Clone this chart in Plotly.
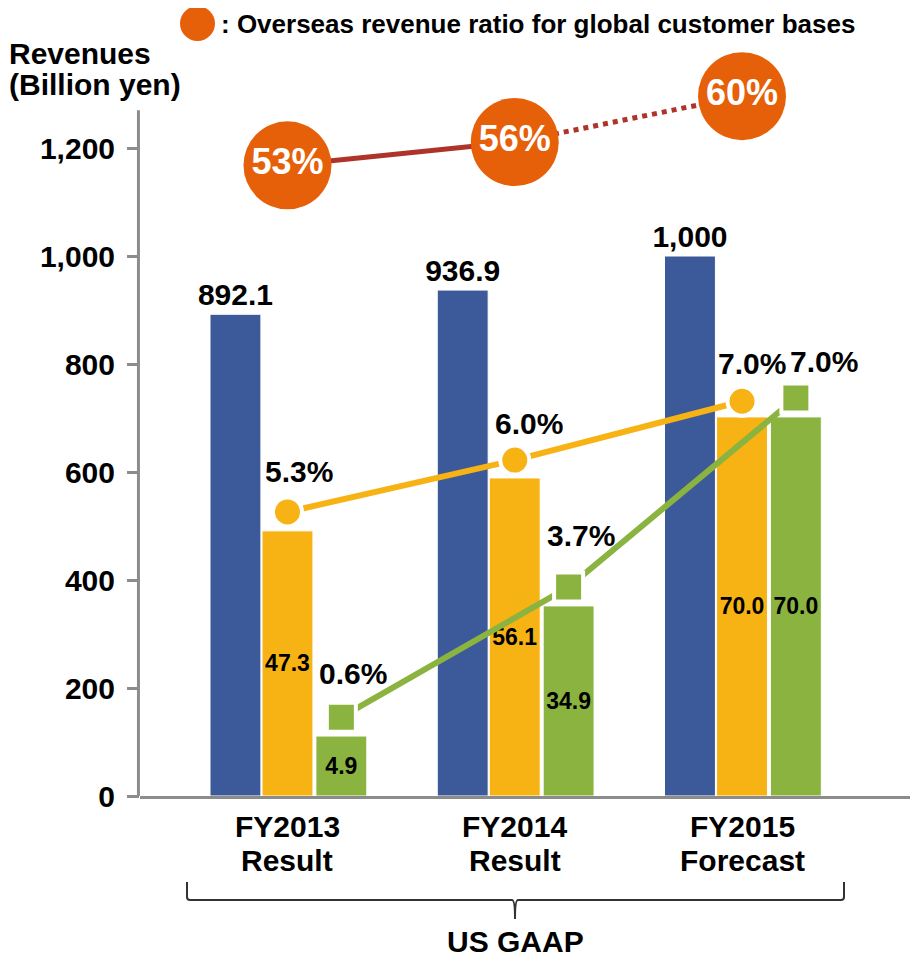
import plotly.graph_objects as go

# ---------------- data ----------------
categories_line1 = ["FY2013", "FY2014", "FY2015"]
categories_line2 = ["Result", "Result", "Forecast"]

revenues = [892.1, 936.9, 1000.0]
revenue_labels = ["892.1", "936.9", "1,000"]

op_income_bar = [491, 589, 702]          # drawn bar heights (axis units)
op_income_labels = ["47.3", "56.1", "70.0"]

net_income_bar = [111, 352, 702]         # drawn bar heights (axis units)
net_income_labels = ["4.9", "34.9", "70.0"]

op_margin_pos = [526, 622, 731]
op_margin_labels = ["5.3%", "6.0%", "7.0%"]

net_margin_pos = [146, 387, 737]
net_margin_labels = ["0.6%", "3.7%", "7.0%"]

overseas_pos = [1168, 1211, 1296]
overseas_labels = ["53%", "56%", "60%"]

y_ticks = [0, 200, 400, 600, 800, 1000, 1200]
y_axis_top = 1270

# ---------------- style ----------------
BLUE = "#3C5A99"
ORANGE = "#F7B214"
GREEN = "#8BB33F"
OVERSEAS = "#E6600A"
RED = "#AE3329"
AXIS = "#8C8C8C"
FONT = "Liberation Sans, Arial, sans-serif"

PAGE_OFF = 8  # default body margin of the html page
W, H = 910, 950
L, R, T, B = 132, 6, 32, 162
PW, PH = W - L - R, H - T - B
Y_MAX = 1400


def px_x(px):
    return (px - PAGE_OFF - L) / PW


def px_y(py):
    return (H - B - (py - PAGE_OFF)) / PH


xs = list(range(len(categories_line1)))
BW = 0.224

fig = go.Figure()

fig.add_trace(go.Bar(
    x=xs, y=revenues, width=BW, offset=-0.341,
    marker=dict(color=BLUE, line=dict(color="white", width=1)),
    text=[f"<b>{t}</b>" for t in revenue_labels], textposition="outside",
    constraintext="none",
    textfont=dict(family=FONT, size=30, color="black"), cliponaxis=False,
    showlegend=False,
))
fig.add_trace(go.Bar(
    x=xs, y=op_income_bar, width=BW, offset=-0.112,
    marker=dict(color=ORANGE, line=dict(color="white", width=1)),
    text=[f"<b>{t}</b>" for t in op_income_labels], textposition="inside",
    insidetextanchor="middle", textangle=0, constraintext="none",
    textfont=dict(family=FONT, size=23, color="black"),
    showlegend=False,
))
fig.add_trace(go.Bar(
    x=xs, y=net_income_bar, width=BW, offset=0.125,
    marker=dict(color=GREEN, line=dict(color="white", width=1)),
    text=[f"<b>{t}</b>" for t in net_income_labels], textposition="inside",
    insidetextanchor="middle", textangle=0, constraintext="none",
    textfont=dict(family=FONT, size=23, color="black"),
    showlegend=False,
))

# margin lines
op_x = [x + 0.0 for x in xs]
net_x = [x + 0.237 for x in xs]
fig.add_trace(go.Scatter(
    x=op_x, y=op_margin_pos, mode="lines+markers",
    line=dict(color=ORANGE, width=6),
    marker=dict(symbol="circle", size=29, color=ORANGE, line=dict(color="white", width=4)),
    cliponaxis=False, showlegend=False,
))
fig.add_trace(go.Scatter(
    x=net_x, y=net_margin_pos, mode="lines+markers",
    line=dict(color=GREEN, width=6),
    marker=dict(symbol="square", size=29, color=GREEN, line=dict(color="white", width=4)),
    cliponaxis=False, showlegend=False,
))

# overseas ratio line
fig.add_trace(go.Scatter(
    x=xs[:2], y=overseas_pos[:2], mode="lines",
    line=dict(color=RED, width=5), cliponaxis=False, showlegend=False,
))
fig.add_trace(go.Scatter(
    x=xs[1:], y=overseas_pos[1:], mode="lines",
    line=dict(color=RED, width=5, dash="dot"), cliponaxis=False, showlegend=False,
))
fig.add_trace(go.Scatter(
    x=xs, y=overseas_pos, mode="markers+text",
    marker=dict(size=88, color=OVERSEAS),
    text=[f"<b>{t}</b>" for t in overseas_labels], textposition="middle center",
    textfont=dict(family=FONT, size=36, color="white"),
    cliponaxis=False, showlegend=False,
))

annotations = []
op_shift = [(12, 40), (14, 37), (10, 38)]
net_shift = [(12, 44), (12, 52), (28, 37)]
for x, y, t, (dx, dy) in zip(op_x, op_margin_pos, op_margin_labels, op_shift):
    annotations.append(dict(x=x, y=y, xref="x", yref="y", text=f"<b>{t}</b>",
                            showarrow=False, xshift=dx, yshift=dy,
                            font=dict(family=FONT, size=30, color="black")))
for x, y, t, (dx, dy) in zip(net_x, net_margin_pos, net_margin_labels, net_shift):
    annotations.append(dict(x=x, y=y, xref="x", yref="y", text=f"<b>{t}</b>",
                            showarrow=False, xshift=dx, yshift=dy,
                            font=dict(family=FONT, size=30, color="black")))

# category labels (two lines)
for x, a, b in zip(xs, categories_line1, categories_line2):
    annotations.append(dict(x=x, y=px_y(826), xref="x", yref="paper", text=f"<b>{a}</b>",
                            showarrow=False, yanchor="middle",
                            font=dict(family=FONT, size=30, color="black")))
    annotations.append(dict(x=x, y=px_y(860), xref="x", yref="paper", text=f"<b>{b}</b>",
                            showarrow=False, yanchor="middle",
                            font=dict(family=FONT, size=30, color="black")))

annotations.append(dict(x=px_x(515), y=px_y(942), xref="paper", yref="paper",
                        text="<b>US GAAP</b>", showarrow=False, yanchor="middle",
                        font=dict(family=FONT, size=30, color="black")))

# axis title
annotations.append(dict(x=px_x(7), y=px_y(53), xref="paper", yref="paper",
                        text="<b>Revenues</b>", showarrow=False, xanchor="left", yanchor="middle",
                        font=dict(family=FONT, size=30, color="black")))
annotations.append(dict(x=px_x(7), y=px_y(84), xref="paper", yref="paper",
                        text="<b>(Billion yen)</b>", showarrow=False, xanchor="left", yanchor="middle",
                        font=dict(family=FONT, size=30, color="black")))

# legend text
annotations.append(dict(x=px_x(219), y=px_y(24), xref="paper", yref="paper",
                        text="<b>: Overseas revenue ratio for global customer bases</b>",
                        showarrow=False, xanchor="left", yanchor="middle",
                        font=dict(family=FONT, size=26, color="black")))

shapes = [
    dict(type="circle", xref="paper", yref="paper",
         x0=px_x(180), x1=px_x(215), y0=px_y(41), y1=px_y(6),
         fillcolor=OVERSEAS, line=dict(width=0)),
    # y axis line (stops at the axis top, below the ratio circles)
    dict(type="line", xref="paper", yref="y", x0=-0.002, x1=-0.002, y0=-6, y1=y_axis_top,
         line=dict(color=AXIS, width=3), layer="below"),
]

# bracket
bx0, bx1, bxm = px_x(187), px_x(844), px_x(515)
by_top, by_mid, by_bot = px_y(882), px_y(900), px_y(919)
r = px_x(190) - px_x(187)
ry = px_y(897) - px_y(900)
path = (f"M {bx0},{by_top} L {bx0},{by_mid + ry} Q {bx0},{by_mid} {bx0 + r},{by_mid} "
        f"L {bxm - r},{by_mid} Q {bxm},{by_mid} {bxm},{by_bot} "
        f"Q {bxm},{by_mid} {bxm + r},{by_mid} L {bx1 - r},{by_mid} "
        f"Q {bx1},{by_mid} {bx1},{by_mid + ry} L {bx1},{by_top}")
shapes.append(dict(type="path", xref="paper", yref="paper", path=path,
                   line=dict(color="#333333", width=2)))

fig.update_layout(
    width=W, height=H, autosize=False,
    margin=dict(l=L, r=R, t=T, b=B, autoexpand=False),
    paper_bgcolor="white", plot_bgcolor="white",
    barmode="overlay",
    font=dict(family=FONT, color="black"),
    annotations=annotations, shapes=shapes,
    xaxis=dict(range=[-0.649, 2.748], showline=True, linecolor=AXIS, linewidth=3,
               showticklabels=False, ticks="", showgrid=False, zeroline=False,
               automargin=False),
    yaxis=dict(range=[0, Y_MAX], showline=False,
               tickvals=y_ticks, ticktext=[f"{v:,}" for v in y_ticks],
               ticks="outside", ticklen=12, tickwidth=3, tickcolor=AXIS,
               ticklabelstandoff=6, automargin=False,
               tickfont=dict(family=FONT, size=30, color="black", weight="bold"),
               showgrid=False, zeroline=False),
)

fig.write_html("out.html")
